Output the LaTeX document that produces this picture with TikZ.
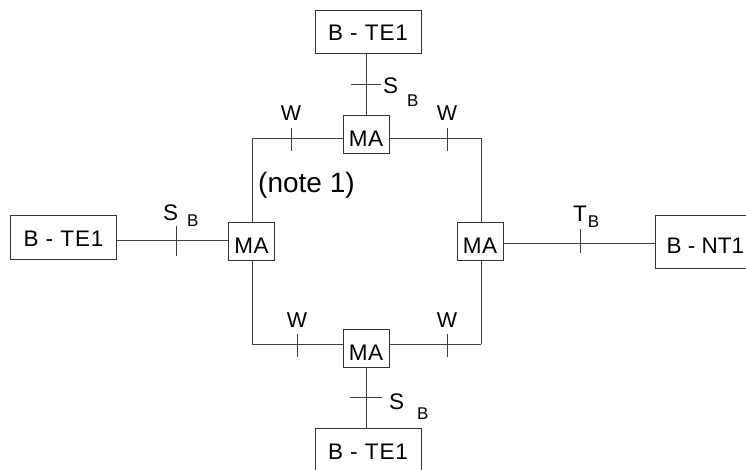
\documentclass[tikz,border=0pt]{standalone}
\usepackage{fontspec}
\setmainfont{Liberation Sans}
\begin{document}
\begin{tikzpicture}[x=1pt,y=-1pt,
  ln/.style={draw=black!75, line width=0.9pt},
  tebox/.style={draw=black!80, line width=0.9pt, fill=white, rectangle,
    minimum width=106pt, minimum height=44pt, inner sep=0pt,
    text height=18pt, text depth=0pt,
    font=\fontsize{22.5}{22.5}\selectfont\addfontfeature{LetterSpace=4}},
  mabox/.style={draw=black!80, line width=0.9pt, fill=white, rectangle,
    minimum width=46pt, minimum height=38pt, inner sep=0pt,
    text height=24pt, text depth=0pt,
    font=\fontsize{22.5}{22.5}\selectfont\addfontfeature{LetterSpace=3}},
  wlbl/.style={inner sep=0pt, anchor=base, font=\fontsize{21.5}{21.5}\selectfont},
  slbl/.style={inner sep=0pt, anchor=base west, font=\fontsize{22.5}{22.5}\selectfont},
  notelbl/.style={inner sep=0pt, anchor=base west, font=\fontsize{28}{28}\selectfont}
]
\useasboundingbox (0,0) rectangle (746,470);
\clip (0,0) rectangle (746,470);

% ring corners and tick points
\coordinate (cTL) at (252,138);
\coordinate (cTR) at (481,138);
\coordinate (cBL) at (252,344);
\coordinate (cBR) at (481,344);
\coordinate (wTL) at (291,138);
\coordinate (wTR) at (447,138);
\coordinate (wBL) at (297,344);
\coordinate (wBR) at (447,344);
\coordinate (sT) at (366,84);
\coordinate (sB) at (366,397);
\coordinate (sL) at (176,240);
\coordinate (tR) at (580,243);

% ring lines (drawn first, boxes on top)
\draw[ln] (cTL) -- (cTR);
\draw[ln] (cTR) -- (cBR);
\draw[ln] (cBR) -- (cBL);
\draw[ln] (cBL) -- (cTL);

% MA boxes
\node[mabox] (topMA) at (366,134.5) {MA\hspace{6pt}};
\node[mabox] (leftMA) at (251.5,241.5) {MA\hspace{6pt}};
\node[mabox] (rightMA) at (480,241.5) {MA\hspace{6pt}};
\node[mabox] (botMA) at (366,348) {MA\hspace{6pt}};

% terminal boxes
\node[tebox, minimum height=43pt] (topTE) at (368,31.5) {B - TE1\hspace{8pt}};
\node[tebox] (leftTE) at (63.5,237) {B - TE1\hspace{8pt}};
\node[tebox] (botTE) at (368,450) {B - TE1\hspace{8pt}};
\node[tebox, anchor=west, minimum width=100pt, minimum height=53pt, text height=23pt,
  align=left, inner xsep=10pt, font=\fontsize{22.5}{22.5}\selectfont] (NT) at (655,241.5) {B - NT1};

% connectors
\draw[ln] (topTE.south -| sT) -- (topMA.north -| sT);
\draw[ln] (botMA.south -| sB) -- (botTE.north -| sB);
\draw[ln] (leftTE.east |- sL) -- (leftMA.west |- sL);
\draw[ln] (rightMA.east |- tR) -- (NT.west |- tR);

% W ticks and labels
\foreach \c in {wTL,wTR,wBL,wBR}{
  \draw[ln] ([yshift=10pt]\c) -- ([yshift=-13pt]\c);
  \node[wlbl] at ([yshift=17pt]\c) {W};
}

% S/T ticks
\draw[ln] ([xshift=-15pt]sT) -- ([xshift=15pt]sT);
\draw[ln] ([xshift=-16pt]sB) -- ([xshift=16pt]sB);
\draw[ln] ([yshift=14pt]sL) -- ([yshift=-16pt]sL);
\draw[ln] ([yshift=14pt]tR) -- ([yshift=-10pt]tR);

% S/T labels
\node[slbl] at (383,94) {S\hspace{9pt}\raisebox{-13pt}{\fontsize{17}{17}\selectfont B}};
\node[slbl] at (163,221) {S\hspace{9pt}\raisebox{-6pt}{\fontsize{17}{17}\selectfont B}};
\node[slbl] at (573,222) {T\hspace{1pt}\raisebox{-6pt}{\fontsize{17}{17}\selectfont B}};
\node[slbl] at (389,409) {S\hspace{13pt}\raisebox{-10pt}{\fontsize{17}{17}\selectfont B}};

% note
\node[notelbl] at (258,193) {(note 1)};
\end{tikzpicture}
\end{document}
